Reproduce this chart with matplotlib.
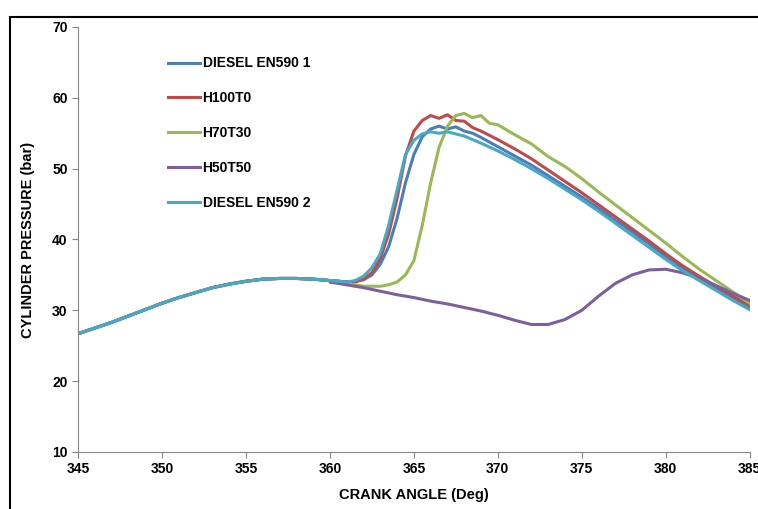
import matplotlib.pyplot as plt
from matplotlib.patches import Rectangle

plt.rcParams['font.family'] = ['Liberation Sans', 'DejaVu Sans']

# -- data
base_x = [345, 346, 347, 348, 349, 350, 351, 352, 353, 354, 355, 356, 357, 358, 359, 360, 361]
base_y = [26.7, 27.5, 28.3, 29.2, 30.1, 31.0, 31.8, 32.5, 33.2, 33.7, 34.1, 34.4, 34.5, 34.5, 34.4, 34.2, 34.0]

d1_x = [361.5, 362, 362.5, 363, 363.5, 364, 364.5, 365, 365.5, 366, 366.5, 367, 367.5, 368, 368.5, 369,
        370, 371, 372, 373, 374, 375, 376, 377, 378, 379, 380, 381, 382, 383, 384, 385]
d1_y = [34.1, 34.3, 35.0, 36.5, 39.0, 43.0, 48.0, 52.0, 54.5, 55.6, 56.0, 55.6, 55.9, 55.3, 55.0, 54.4,
        53.1, 51.8, 50.5, 49.0, 47.5, 46.0, 44.4, 42.7, 41.1, 39.4, 37.6, 36.0, 34.5, 33.0, 31.6, 30.3]

h100_x = [361.5, 362, 362.5, 363, 363.5, 364, 364.5, 365, 365.5, 366, 366.5, 367, 367.5, 368, 368.5, 369,
          370, 371, 372, 373, 374, 375, 376, 377, 378, 379, 380, 381, 382, 383, 384, 385]
h100_y = [34.0, 34.4, 35.3, 37.3, 40.8, 45.8, 51.8, 55.3, 56.8, 57.5, 57.1, 57.6, 56.8, 56.7, 55.8, 55.3,
          54.1, 52.8, 51.4, 49.8, 48.2, 46.6, 44.9, 43.2, 41.5, 39.8, 38.0, 36.3, 34.8, 33.4, 32.0, 30.7]

h70_x = [361, 362, 363, 363.5, 364, 364.5, 365, 365.5, 366, 366.5, 367, 367.5, 368, 368.5, 369, 369.5,
         370, 371, 372, 373, 374, 375, 376, 377, 378, 379, 380, 381, 382, 383, 384, 385]
h70_y = [33.8, 33.4, 33.4, 33.6, 34.0, 35.0, 37.0, 42.0, 48.0, 53.0, 56.0, 57.5, 57.8, 57.2, 57.5, 56.4,
         56.2, 54.8, 53.5, 51.7, 50.3, 48.6, 46.7, 44.9, 43.1, 41.3, 39.5, 37.6, 35.8, 34.2, 32.6, 31.0]

h50_x = [360, 361, 362, 363, 364, 365, 366, 367, 368, 369, 370, 371, 372, 373, 374, 375, 376, 377, 378,
         379, 380, 381, 382, 383, 384, 385]
h50_y = [34.0, 33.6, 33.2, 32.7, 32.2, 31.8, 31.3, 30.9, 30.4, 29.9, 29.3, 28.6, 28.0, 28.0, 28.7, 30.0,
         32.0, 33.8, 35.0, 35.7, 35.8, 35.3, 34.5, 33.5, 32.4, 31.4]

d2_x = [361.5, 362, 362.5, 363, 363.5, 364, 364.5, 365, 365.5, 366, 366.5, 367, 367.5, 368, 368.5, 369,
        370, 371, 372, 373, 374, 375, 376, 377, 378, 379, 380, 381, 382, 383, 384, 385]
d2_y = [34.2, 34.8, 36.0, 38.0, 42.0, 47.0, 52.0, 54.0, 54.9, 55.2, 55.0, 55.2, 54.9, 54.6, 54.1, 53.6,
        52.5, 51.3, 50.0, 48.6, 47.1, 45.6, 44.0, 42.3, 40.6, 38.9, 37.2, 35.6, 34.2, 32.8, 31.4, 30.1]

labels = ['DIESEL EN590 1', 'H100T0', 'H70T30', 'H50T50', 'DIESEL EN590 2']
colors = ['#4a7ebb', '#be4b48', '#98b954', '#7d5fa0', '#46aac5']
series = [(d1_x, d1_y), (h100_x, h100_y), (h70_x, h70_y), (h50_x, h50_y), (d2_x, d2_y)]

fig = plt.figure(figsize=(7.58, 5.09), dpi=100)
ax = fig.add_axes([0.103, 0.112, 0.886, 0.835])

for (sx, sy), lab, c in zip(series, labels, colors):
    # every curve shares the compression part before ignition
    ax.plot(base_x + sx, base_y + sy, color=c, lw=2.2, label=lab)

ax.set_xlim(345, 385)
ax.set_ylim(10, 70)
ax.set_xticks(range(345, 386, 5))
ax.set_yticks(range(10, 71, 10))
for s in ['top', 'right']:
    ax.spines[s].set_visible(False)
for s in ['left', 'bottom']:
    ax.spines[s].set_color('#868686')
ax.tick_params(direction='out', color='#868686', length=4, labelsize=10)
for t in ax.get_xticklabels() + ax.get_yticklabels():
    t.set_fontweight('bold')

ax.set_xlabel('CRANK ANGLE (Deg)', fontsize=10.5, fontweight='bold', labelpad=8)
ax.set_ylabel('CYLINDER PRESSURE (bar)', fontsize=10.5, fontweight='bold', labelpad=12)

leg = ax.legend(loc='upper left', bbox_to_anchor=(0.115, 0.96), frameon=False,
                handlelength=2.3, handletextpad=0.2, labelspacing=1.5,
                prop={'weight': 'bold', 'size': 10})

# outer frame of the original chart area
fig.patches.append(Rectangle((10 / 758, -0.1), 1.2, 1 - 17 / 509 + 0.1, transform=fig.transFigure,
                             fill=False, edgecolor='black', lw=1.5))

fig.savefig('out.png', dpi=100)
